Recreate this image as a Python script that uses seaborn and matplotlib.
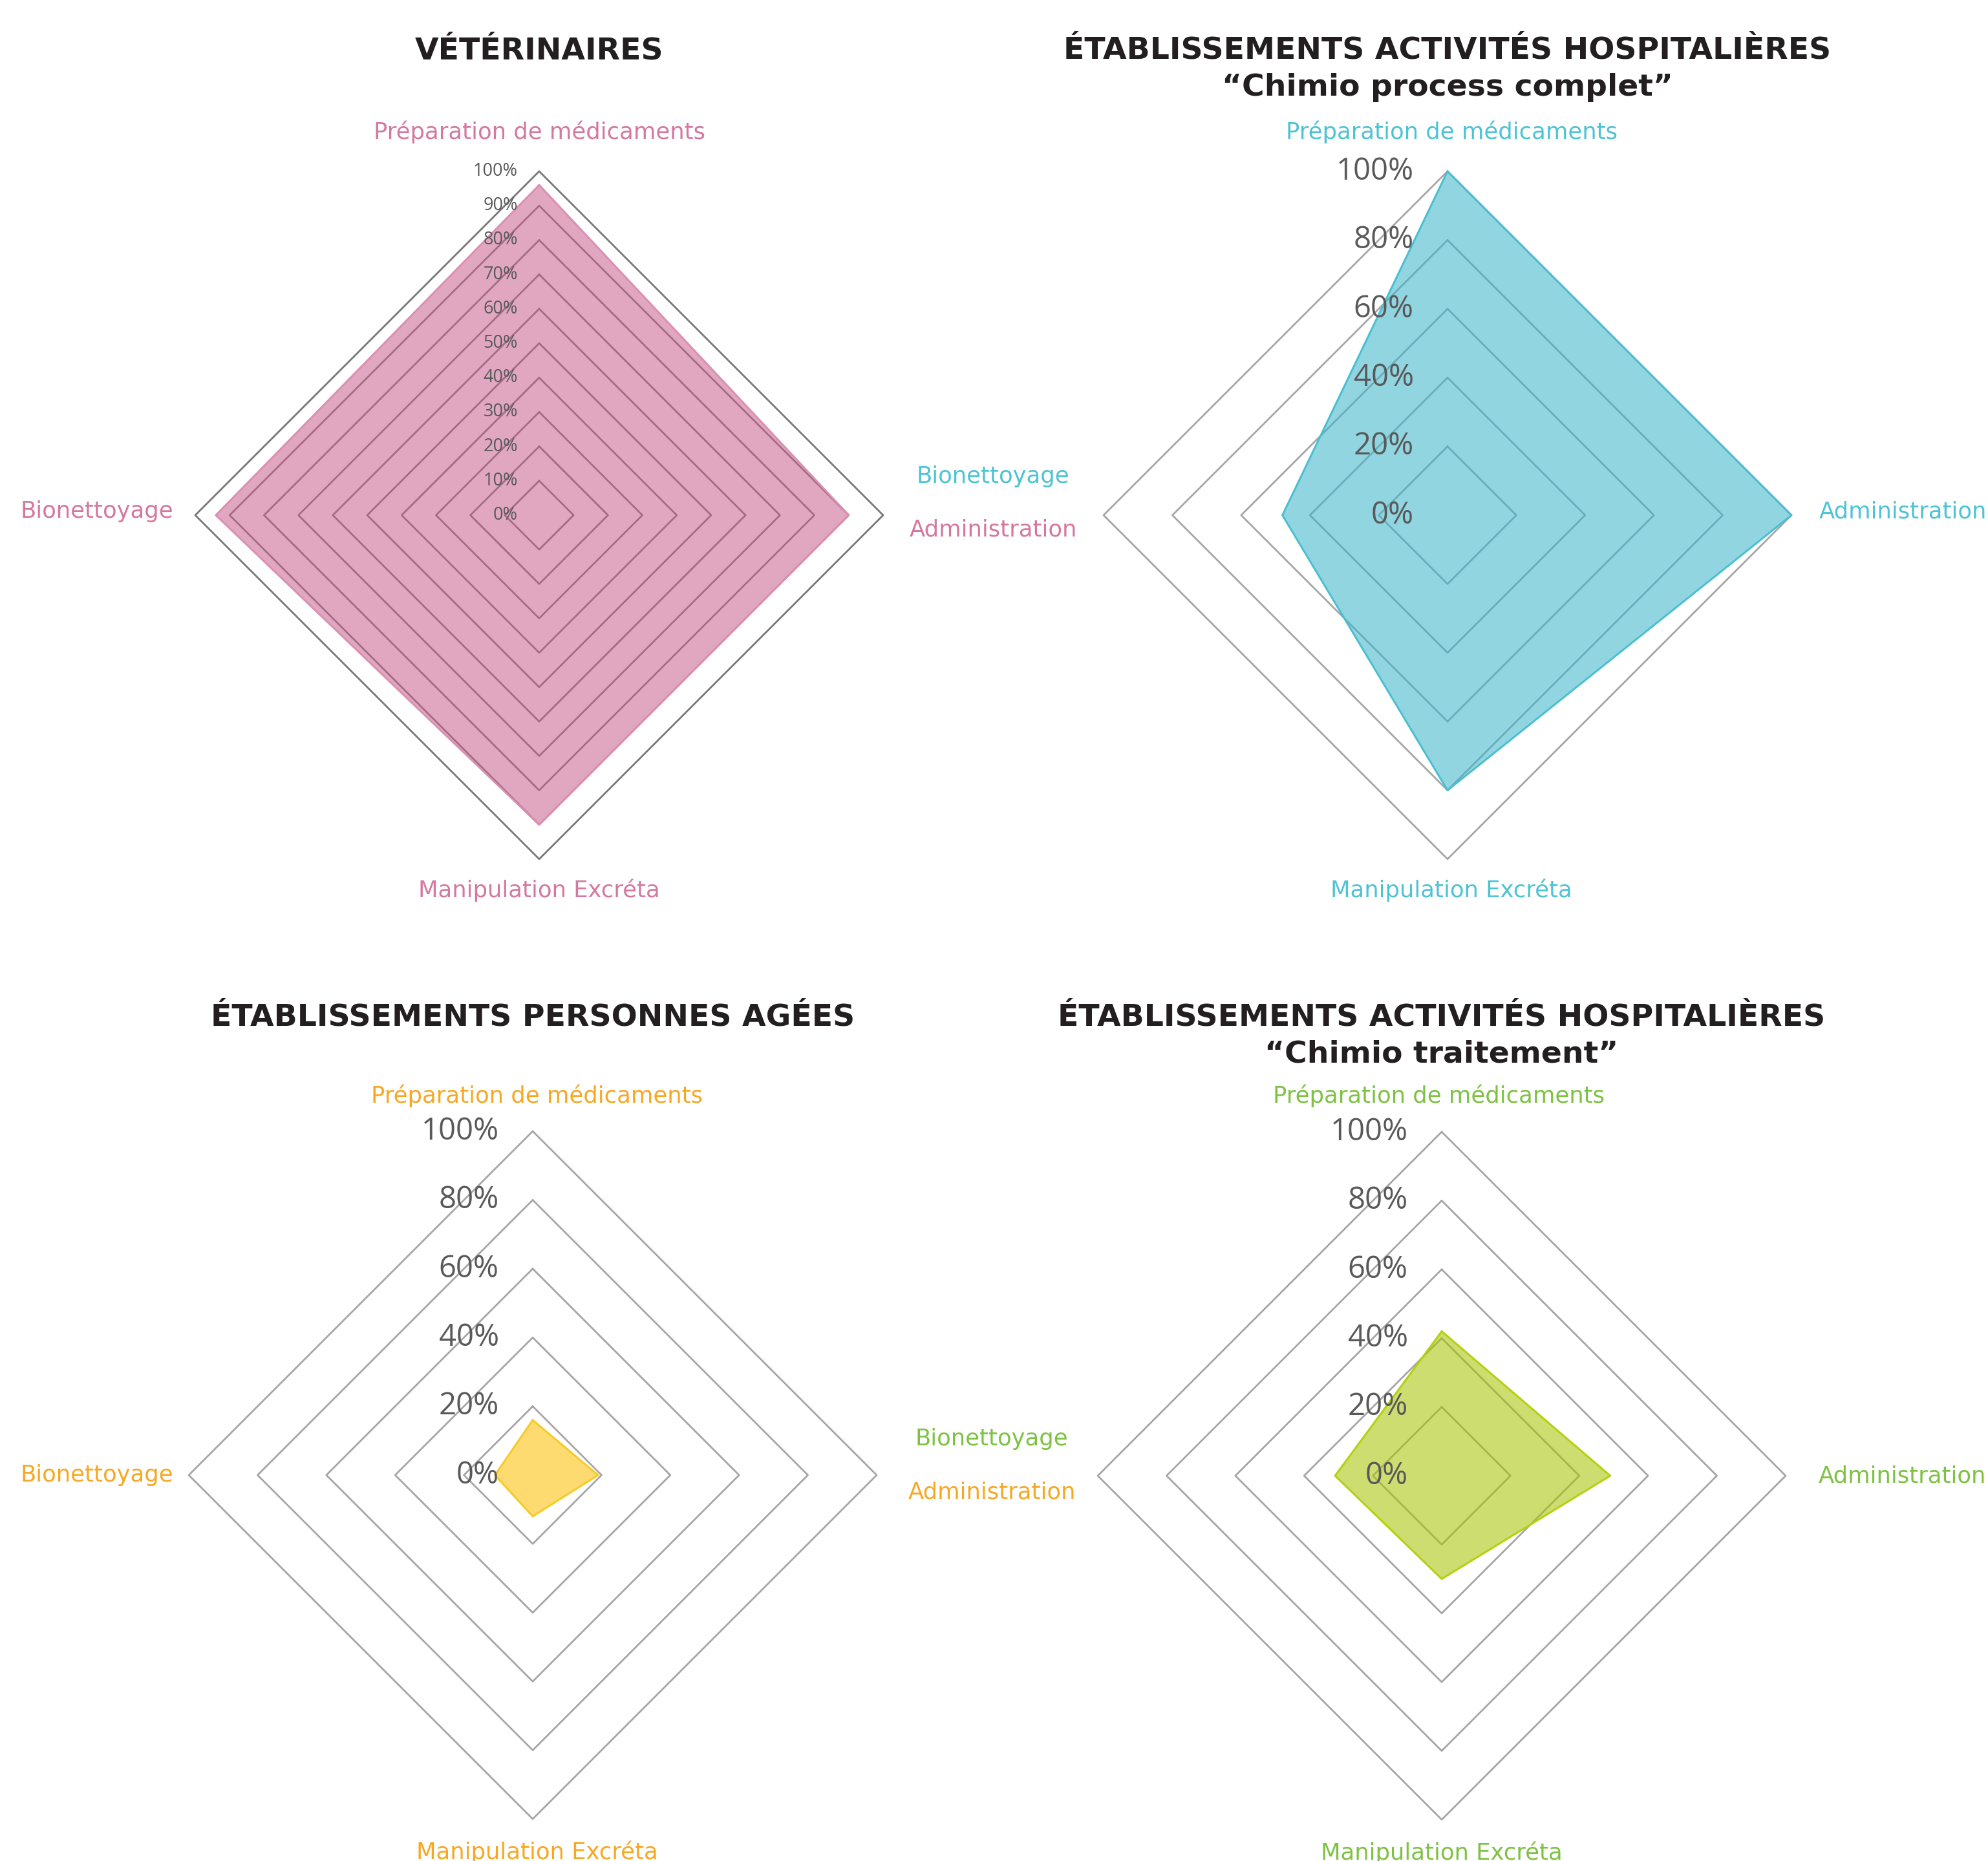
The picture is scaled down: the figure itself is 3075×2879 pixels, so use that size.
import numpy as np
import seaborn as sns
import matplotlib.pyplot as plt

categories = ["Préparation de médicaments", "Administration",
              "Manipulation Excréta", "Bionettoyage"]
veterinaires = [96, 90, 90, 94]
chimio_complet = [100, 100, 80, 48]
personnes_agees = [16, 19, 12, 11]
chimio_traitement = [42, 49, 30, 31]

titles = [["VÉTÉRINAIRES"],
          ["ÉTABLISSEMENTS ACTIVITÉS HOSPITALIÈRES", "“Chimio process complet”"],
          ["ÉTABLISSEMENTS PERSONNES AGÉES"],
          ["ÉTABLISSEMENTS ACTIVITÉS HOSPITALIÈRES", "“Chimio traitement”"]]

sns.set_theme(style="white")
plt.rcParams['font.family'] = ['Open Sans', 'DejaVu Sans']

W, H = 3075, 2879
R = 532
fig = plt.figure(figsize=(W / 100, H / 100), dpi=100)

# top, right, bottom, left
angles = np.deg2rad([90, 0, -90, 180])


def to_xy(vals):
    v = np.asarray(vals, dtype=float) / 100
    x = np.append(v * np.cos(angles), v[0] * np.cos(angles[0]))
    y = np.append(v * np.sin(angles), v[0] * np.sin(angles[0]))
    return np.round(x, 6), np.round(y, 6)


def radar(cx, cy, values, title, fill, edge, label_col, levels, grid_col,
          tick_size, tick_off, label_pos, title_y):
    half = 1.5 * R
    ax = fig.add_axes([(cx - half) / W, 1 - (cy + half) / H, 2 * half / W, 2 * half / H])
    ax.set_xlim(-1.5, 1.5)
    ax.set_ylim(-1.5, 1.5)
    ax.axis('off')
    ax.patch.set_alpha(0)

    for lv in levels:
        gx, gy = to_xy([lv] * 4)
        ax.plot(gx, gy, color=grid_col, lw=2.0, zorder=1)

    x, y = to_xy(values)
    ax.fill(x, y, color=fill, alpha=0.56, lw=0, zorder=2)
    sns.lineplot(x=x, y=y, sort=False, estimator=None, color=edge, lw=2.2,
                 ax=ax, zorder=3)

    for lv in [0] + list(levels):
        ax.text(-tick_off, lv / 100, f"{lv}%", ha='right', va='center',
                fontsize=tick_size, color='#595959', zorder=5)

    for cat, (px, py) in zip(categories, label_pos):
        ax.text(px, py, cat, ha='center', va='center', fontsize=25.5,
                color=label_col, zorder=5, family=['DejaVu Sans'])

    for line, ty in zip(title, title_y):
        ax.text(0.0, ty, line, ha='center', va='center', fontsize=34,
                fontweight='bold', color='#231F20', family=['DejaVu Sans'])
    return ax


radar(834, 797, veterinaires, titles[0], '#CA6391', '#DA90B2', '#D4789F',
      list(range(10, 101, 10)), '#777777', 19.5, 0.062,
      [(0.0, 1.115), (1.32, -0.043), (0.0, -1.09), (-1.286, 0.011)], [1.35])

radar(2239, 797, chimio_complet, titles[1], '#3CB4CB', '#4BBFD0', '#4DC3D3',
      list(range(20, 101, 20)), '#A6A6A6', 34, 0.098,
      [(0.013, 1.115), (1.325, 0.011), (0.011, -1.09), (-1.321, 0.113)],
      [1.352, 1.243])

radar(824, 2282, personnes_agees, titles[2], '#FCC000', '#F5CB2A', '#F7A823',
      list(range(20, 101, 20)), '#A6A6A6', 34, 0.098,
      [(0.013, 1.103), (1.335, -0.05), (0.013, -1.096), (-1.267, 0.0)], [1.33])

radar(2230, 2283, chimio_traitement, titles[3], '#A8C300', '#B6D010', '#7DC243',
      list(range(20, 101, 20)), '#A6A6A6', 34, 0.098,
      [(-0.008, 1.105), (1.34, 0.0), (0.0, -1.096), (-1.308, 0.107)],
      [1.333, 1.225])

fig.savefig('out.png', dpi=100, facecolor='white')
